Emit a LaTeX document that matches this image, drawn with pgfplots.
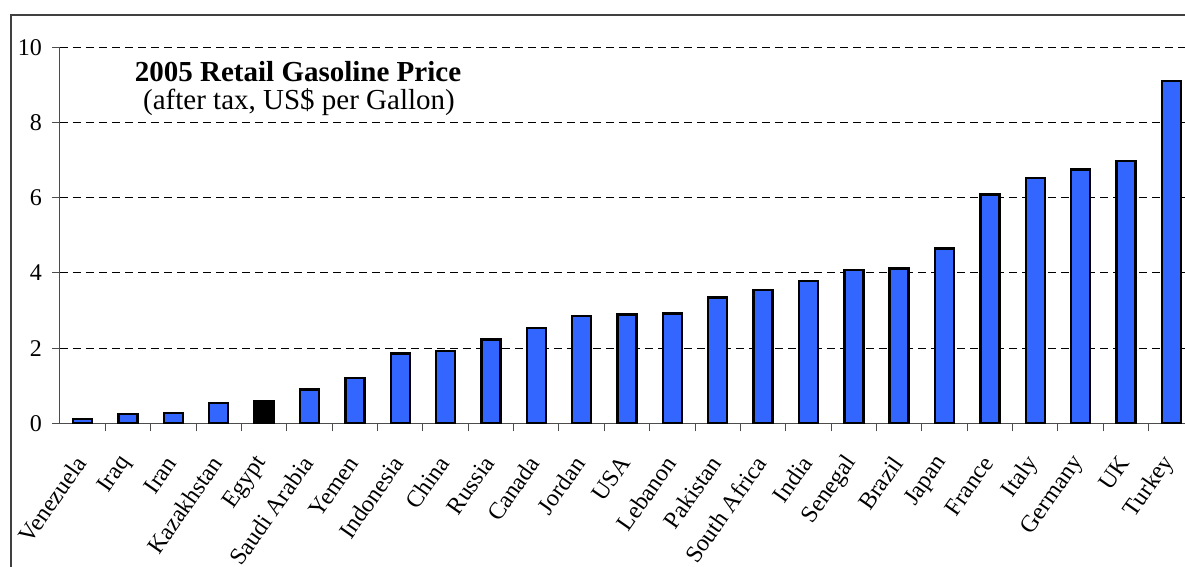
\documentclass[border=0pt]{standalone}
\usepackage{fontspec}
\setmainfont{Liberation Serif}
\usepackage{pgfplots}
\pgfplotsset{compat=1.18}
\definecolor{barblue}{HTML}{3366FF}

\begin{document}
\begin{tikzpicture}
\path[use as bounding box] (0,0) rectangle (592.5pt,283.5pt);
\clip (0,0) rectangle (592.5pt,283.5pt);
\draw[line width=1pt, black!75] (5.5pt,-20pt) rectangle (620pt,276pt);
\begin{axis}[
  at={(30pt,71.85pt)}, anchor=south west,
  width=567pt, height=187.9pt, scale only axis,
  ybar, bar width=9.5pt, bar shift=0pt,
  xmin=-0.5, xmax=24.5, ymin=0, ymax=10,
  xtick={0,...,24},
  xticklabels={Venezuela,Iraq,Iran,Kazakhstan,Egypt,Saudi Arabia,Yemen,Indonesia,China,Russia,Canada,Jordan,USA,Lebanon,Pakistan,South Africa,India,Senegal,Brazil,Japan,France,Italy,Germany,UK,Turkey},
  major x tick style={draw=none},
  minor x tick num=1,
  ytick={0,2,...,10},
  ymajorgrids,
  grid style={dash pattern=on 4pt off 2.5pt, line width=0.5pt, black},
  axis x line*=bottom, axis y line*=left,
  axis line style={line width=0.5pt, black!70},
  tick align=outside, major tick length=4pt, minor tick length=4pt,
  tick style={line width=0.5pt, black!70},
  tick label style={font=\fontsize{12pt}{14pt}\selectfont},
  xticklabel style={yshift=-11pt, xshift=1pt, rotate=55, anchor=east},
  yticklabel style={xshift=-1.5pt},
  /pgf/number format/assume math mode=true,
]
\addplot[fill=barblue, draw=black, line width=1.2pt] coordinates {
  (0,0.12) (1,0.25) (2,0.28) (3,0.54) (5,0.90) (6,1.20) (7,1.86) (8,1.92)
  (9,2.23) (10,2.53) (11,2.86) (12,2.90) (13,2.92) (14,3.35) (15,3.55)
  (16,3.79) (17,4.08) (18,4.12) (19,4.65) (20,6.09) (21,6.53) (22,6.75)
  (23,6.98) (24,9.11)
};
\addplot[fill=black, draw=black, line width=1.2pt] coordinates {(4,0.59)};
\end{axis}
\node[anchor=base, font=\fontsize{14.5pt}{17pt}\selectfont\bfseries] at (149pt,242.5pt) {2005 Retail Gasoline Price};
\node[anchor=base, font=\fontsize{14.5pt}{17pt}\selectfont] at (149.5pt,228.5pt) {(after tax, US\$ per Gallon)};
\end{tikzpicture}
\end{document}
